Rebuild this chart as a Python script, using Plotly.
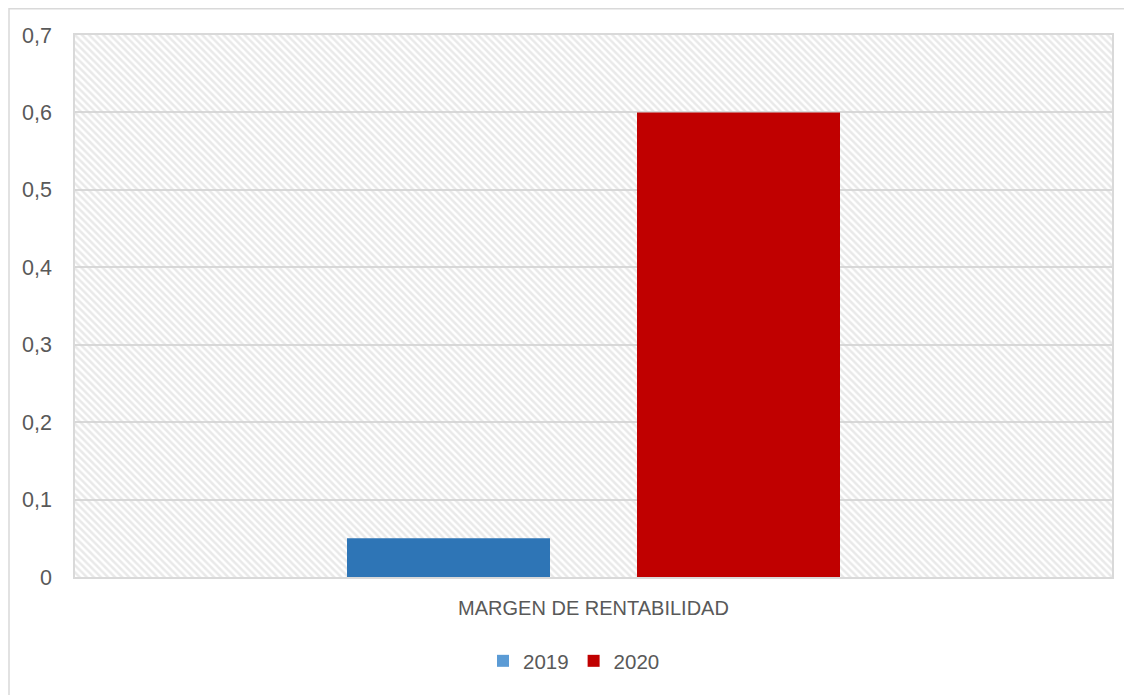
import plotly.graph_objects as go

categories = ["MARGEN DE RENTABILIDAD"]
series_names = ["2019", "2020"]
values_2019 = [0.05]
values_2020 = [0.6]
bar_colors = ["#2E75B6", "#C00000"]
legend_colors = ["#5B9BD5", "#C00000"]
tick_vals = [0, 0.1, 0.2, 0.3, 0.4, 0.5, 0.6, 0.7]
tick_text = ["0", "0,1", "0,2", "0,3", "0,4", "0,5", "0,6", "0,7"]
y_max = 0.7

FONT = "Liberation Sans"
TXT = "#595959"
GRID = "#D9D9D9"

# plot-area geometry (figure pixels)
L, T, PW, PH = 67, 27, 1037, 542
W, H = 1132, 695

fig = go.Figure()

# hatched background of the plot area
fig.add_trace(go.Bar(
    x=categories, y=[y_max], xaxis="x", yaxis="y", width=[1.0],
    marker=dict(color="rgba(0,0,0,0)", line=dict(width=0),
                pattern=dict(shape="\\", fgcolor="#D3D3D3", bgcolor="rgba(0,0,0,0)",
                             size=5, solidity=0.5)),
    showlegend=False, hoverinfo="skip"))

for name, vals, col in zip(series_names, [values_2019, values_2020], bar_colors):
    fig.add_trace(go.Bar(x=categories, y=vals, name=name, xaxis="x2", yaxis="y",
                         marker=dict(color=col, line=dict(width=0)), showlegend=False))

for name, col in zip(series_names, legend_colors):
    fig.add_trace(go.Scatter(x=[None], y=[None], name=name, mode="markers", xaxis="x2", yaxis="y",
                             marker=dict(symbol="square", size=12, color=col)))

fig.update_layout(
    width=W, height=H,
    margin=dict(l=L, r=W - L - PW, t=T, b=H - T - PH),
    paper_bgcolor="white", plot_bgcolor="white",
    barmode="group", bargap=0.4407, bargroupgap=0.3,
    font=dict(family=FONT, color=TXT, size=20),
    xaxis=dict(type="category", range=[-0.5, 0.5], showgrid=False, showticklabels=True,
               tickfont=dict(size=20, color=TXT, family=FONT), ticks="", ticklen=0,
               ticklabelstandoff=12,
               showline=True, linecolor=GRID, linewidth=1.5, mirror=True),
    xaxis2=dict(type="category", range=[-0.5, 0.5], overlaying="x", showgrid=False,
                showticklabels=False, showline=False),
    yaxis=dict(range=[0, y_max], tickvals=tick_vals, ticktext=tick_text,
               showgrid=True, gridcolor=GRID, gridwidth=1.5,
               showline=True, linecolor=GRID, linewidth=1.5, mirror=True,
               zeroline=False, tickfont=dict(size=21.5, color=TXT, family=FONT), ticklen=0,
               ticks="", ticklabelstandoff=17),
    legend=dict(orientation="h", x=(566 - L) / PW, xanchor="center",
                y=-84 / PH, yanchor="middle",
                font=dict(size=20.5, color=TXT, family=FONT), itemwidth=30, tracegroupgap=0),
    shapes=[dict(type="rect", xref="paper", yref="paper",
                 x0=(1 - L) / PW, x1=1 + 60 / PW, y0=-(H - T - PH + 30) / PH, y1=1 + (T - 0.75) / PH,
                 line=dict(color=GRID, width=1.5), layer="below")],
)
fig.write_html("out.html")
